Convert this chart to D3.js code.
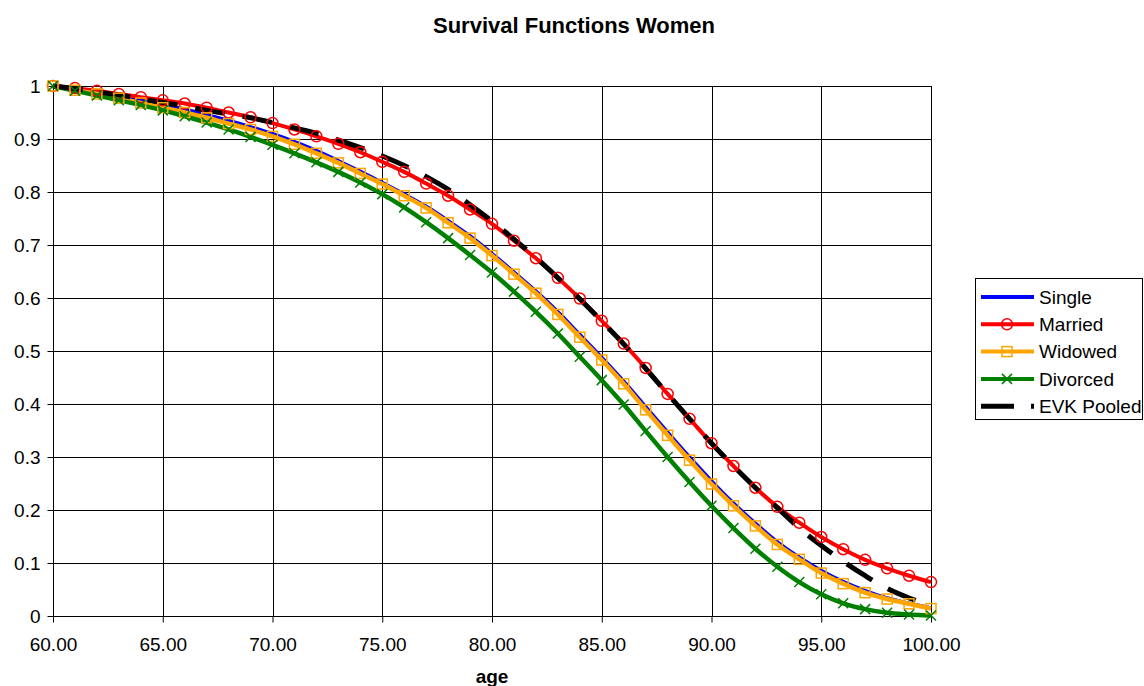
<!DOCTYPE html>
<html>
<head>
<meta charset="utf-8">
<script src="https://cdn.jsdelivr.net/npm/d3@7"></script>
<style>
  html, body { margin: 0; padding: 0; background: #fff; }
  svg { display: block; font-family: "Liberation Sans", Arial, sans-serif; }
</style>
</head>
<body>
<svg id="chart" width="1144" height="686"></svg>
<script>
const ages = d3.range(60, 101);
const single = [1, 0.994, 0.988, 0.981, 0.973, 0.965, 0.956, 0.946, 0.935, 0.923, 0.910, 0.895, 0.878, 0.859, 0.839, 0.818, 0.796, 0.773, 0.746, 0.717, 0.684, 0.649, 0.613, 0.574, 0.531, 0.488, 0.443, 0.395, 0.347, 0.300, 0.255, 0.213, 0.175, 0.140, 0.111, 0.086, 0.065, 0.048, 0.034, 0.024, 0.015];
const married = [1, 0.996, 0.991, 0.985, 0.979, 0.973, 0.967, 0.959, 0.950, 0.941, 0.930, 0.918, 0.905, 0.891, 0.875, 0.857, 0.838, 0.816, 0.793, 0.767, 0.740, 0.708, 0.675, 0.638, 0.599, 0.557, 0.514, 0.468, 0.419, 0.372, 0.326, 0.283, 0.242, 0.206, 0.176, 0.149, 0.126, 0.106, 0.090, 0.076, 0.064];
const widowed = [1, 0.992, 0.985, 0.977, 0.968, 0.959, 0.950, 0.940, 0.929, 0.918, 0.905, 0.890, 0.873, 0.855, 0.835, 0.815, 0.793, 0.770, 0.742, 0.713, 0.680, 0.645, 0.609, 0.569, 0.526, 0.483, 0.438, 0.389, 0.341, 0.294, 0.249, 0.208, 0.170, 0.135, 0.107, 0.081, 0.061, 0.044, 0.032, 0.023, 0.014];
const divorced = [1, 0.991, 0.982, 0.973, 0.964, 0.954, 0.943, 0.931, 0.918, 0.904, 0.889, 0.873, 0.856, 0.838, 0.818, 0.796, 0.771, 0.743, 0.713, 0.681, 0.648, 0.612, 0.574, 0.533, 0.489, 0.445, 0.399, 0.349, 0.300, 0.253, 0.208, 0.166, 0.127, 0.093, 0.064, 0.041, 0.024, 0.013, 0.006, 0.003, 0.001];
const evkPooled = [1, 0.995, 0.989, 0.983, 0.976, 0.969, 0.962, 0.954, 0.947, 0.940, 0.931, 0.921, 0.911, 0.898, 0.884, 0.868, 0.850, 0.829, 0.805, 0.776, 0.745, 0.711, 0.676, 0.638, 0.598, 0.556, 0.513, 0.467, 0.419, 0.372, 0.326, 0.283, 0.242, 0.204, 0.166, 0.133, 0.103, 0.076, 0.052, 0.034, 0.020];
const yTicks = [0, 0.1, 0.2, 0.3, 0.4, 0.5, 0.6, 0.7, 0.8, 0.9, 1];
const xTicks = [60, 65, 70, 75, 80, 85, 90, 95, 100];
const seriesNames = ["Single", "Married", "Widowed", "Divorced", "EVK Pooled"];

const series = [
  { name: seriesNames[0], values: single, color: "#0000FF", width: 3.5, marker: null },
  { name: seriesNames[1], values: married, color: "#FF0000", width: 4, marker: "circle" },
  { name: seriesNames[2], values: widowed, color: "#FFA500", width: 4.5, marker: "square" },
  { name: seriesNames[3], values: divorced, color: "#008000", width: 4.5, marker: "x" },
  { name: seriesNames[4], values: evkPooled, color: "#000000", width: 5, marker: null, dash: "30,18" }
];

const svg = d3.select("#chart");
const x = d3.scaleLinear().domain([60, 100]).range([53, 931]);
const y = d3.scaleLinear().domain([0, 1]).range([616, 86]);

// gridlines
const grid = svg.append("g");
grid.selectAll("line.h").data(yTicks.filter(d => d > 0)).enter().append("line")
  .attr("x1", x(60)).attr("x2", x(100))
  .attr("y1", d => Math.round(y(d)) + 0.5).attr("y2", d => Math.round(y(d)) + 0.5)
  .attr("stroke", "#000").attr("stroke-width", 1);
grid.selectAll("line.v").data(xTicks.filter(d => d > 60)).enter().append("line")
  .attr("y1", y(0)).attr("y2", y(1))
  .attr("x1", d => Math.round(x(d)) + 0.5).attr("x2", d => Math.round(x(d)) + 0.5)
  .attr("stroke", "#000").attr("stroke-width", 1);

// axes
const yAxis = d3.axisLeft(y).tickValues(yTicks).tickSize(6).tickPadding(7)
  .tickFormat(d => d3.format("~g")(d));
const xAxis = d3.axisBottom(x).tickValues(xTicks).tickSize(6).tickPadding(15)
  .tickFormat(d3.format(".2f"));

const gy = svg.append("g").attr("transform", "translate(" + (Math.round(x(60)) + 0.5) + ",0)").call(yAxis);
const gx = svg.append("g").attr("transform", "translate(0," + (Math.round(y(0)) + 0.5) + ")").call(xAxis);
[gx, gy].forEach(g => {
  g.select(".domain").attr("stroke", "#000");
  g.selectAll(".tick line").attr("stroke", "#000");
  g.selectAll(".tick text").attr("fill", "#000").style("font-size", "19px")
    .style("font-family", "'Liberation Sans', Arial, sans-serif");
});
gx.select(".domain").attr("d", "M" + x(60) + ",0H" + x(100));
gy.select(".domain").attr("d", "M0," + y(0) + "V" + y(1));

// lines
const line = d3.line().x((d, i) => x(ages[i])).y(d => y(d)).curve(d3.curveCatmullRom.alpha(0.5));
const linesG = svg.append("g");
series.forEach(s => {
  linesG.append("path").datum(s.values).attr("d", line)
    .attr("fill", "none").attr("stroke", s.color).attr("stroke-width", s.width)
    .attr("stroke-linejoin", "round")
    .attr("stroke-dasharray", s.dash || null);
});

function drawMarker(g, type, cx, cy, color) {
  if (type === "circle") {
    g.append("circle").attr("cx", cx).attr("cy", cy).attr("r", 5.5)
      .attr("fill", "none").attr("stroke", color).attr("stroke-width", 1.5);
  } else if (type === "square") {
    g.append("rect").attr("x", cx - 5).attr("y", cy - 5).attr("width", 10).attr("height", 10)
      .attr("fill", "none").attr("stroke", color).attr("stroke-width", 1.5);
  } else if (type === "x") {
    g.append("path").attr("d", `M${cx - 5},${cy - 5}L${cx + 5},${cy + 5}M${cx - 5},${cy + 5}L${cx + 5},${cy - 5}`)
      .attr("stroke", color).attr("stroke-width", 1.5).attr("fill", "none");
  }
}

const markersG = svg.append("g");
series.forEach(s => {
  if (!s.marker) return;
  s.values.forEach((v, i) => drawMarker(markersG, s.marker, x(ages[i]), y(v), s.color));
});

// title
svg.append("text").attr("x", 574).attr("y", 33).attr("text-anchor", "middle")
  .style("font-size", "22px").style("font-weight", "bold").text("Survival Functions Women");
svg.append("text").attr("x", (x(60) + x(100)) / 2).attr("y", 683).attr("text-anchor", "middle")
  .style("font-size", "19px").style("font-weight", "bold").text("age");

// legend
const lg = svg.append("g");
lg.append("rect").attr("x", 975.5).attr("y", 278.5).attr("width", 167).attr("height", 141)
  .attr("fill", "#fff").attr("stroke", "#000").attr("stroke-width", 1);
series.forEach((s, i) => {
  const cy = 297 + i * 27.3;
  lg.append("line").attr("x1", 981).attr("x2", 1034).attr("y1", cy).attr("y2", cy)
    .attr("stroke", s.color).attr("stroke-width", s.dash ? 5 : 4)
    .attr("stroke-dasharray", s.dash ? "33,17" : null);
  if (s.marker) drawMarker(lg, s.marker, 1007, cy, s.color);
  lg.append("text").attr("x", 1039).attr("y", cy).attr("dy", "0.35em")
    .style("font-size", "19px").text(s.name);
});
</script>
</body>
</html>
